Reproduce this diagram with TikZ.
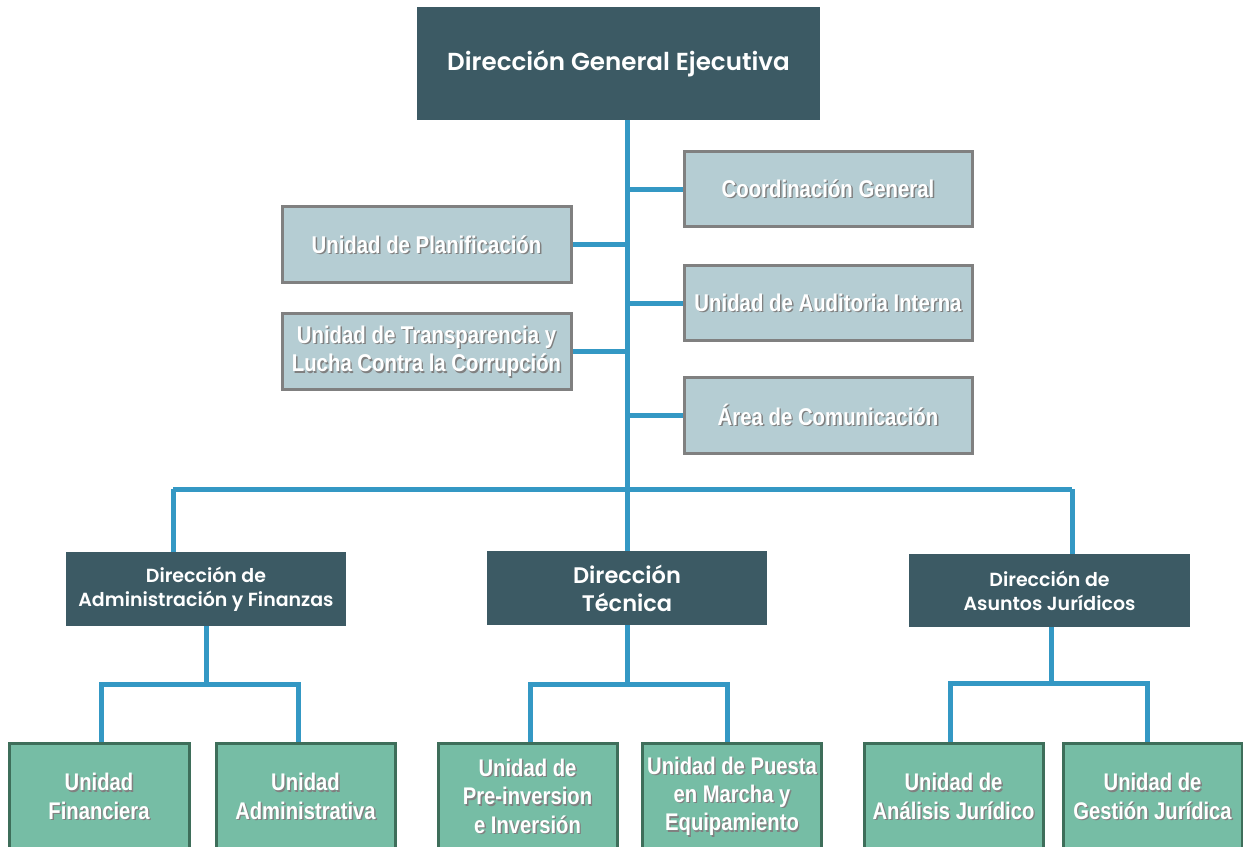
\documentclass[tikz,border=0pt]{standalone}
\usepackage{fontspec}
\newfontfamily\gothic{Poppins}[UprightFont=*-SemiBold, BoldFont=*-Bold]
\newfontfamily\narrowsans[FakeStretch=0.84]{Liberation Sans}
\definecolor{dircolor}{RGB}{60,90,100}
\definecolor{staffcolor}{RGB}{181,205,211}
\definecolor{staffline}{RGB}{128,128,128}
\definecolor{unitcolor}{RGB}{118,189,165}
\definecolor{unitline}{RGB}{62,110,90}
\definecolor{linkcolor}{RGB}{52,152,196}
\newcommand{\shad}[1]{\makebox[0pt][l]{\hspace{0.8pt}\raisebox{-0.8pt}{\color{black!50}#1}}#1}
\tikzset{
	dirbox/.style={fill=dircolor, text=white, align=center, inner sep=0pt,
		minimum width=280*\px, minimum height=74*\px, font=\gothic\fontsize{10.8}{13.5}\selectfont},
	staffbox/.style={fill=staffcolor, draw=staffline, line width=3*\px, text=white, align=center,
		inner sep=0pt, minimum width=288*\px, minimum height=75*\px,
		font=\narrowsans\bfseries\fontsize{13.8}{16}\selectfont},
	unitbox/.style={fill=unitcolor, draw=unitline, line width=3*\px, text=white, align=center,
		inner sep=0pt, minimum width=179*\px, minimum height=108*\px,
		font=\narrowsans\bfseries\fontsize{13.7}{16.2}\selectfont},
	link/.style={draw=linkcolor, line width=5*\px}
}
\begin{document}
\def\px{0.02cm}
\begin{tikzpicture}[x=\px, y=-\px]
	\useasboundingbox (0,0) rectangle (1243,847);
	% top
	\node[dirbox, minimum width=403*\px, minimum height=113*\px, font=\gothic\fontsize{14}{16}\selectfont] (dge) at (618.5,63.5) {\raisebox{-2pt}{Dirección General Ejecutiva}};
	% staff units
	\node[staffbox] (coord) at (828,189.5) {\shad{Coordinación General}};
	\node[staffbox, minimum width=289*\px, minimum height=76*\px] (plan) at (426.5,245) {\shad{Unidad de Planificación}};
	\node[staffbox] (audit) at (828,303.5) {\shad{Unidad de Auditoria Interna}};
	\node[staffbox, minimum width=289*\px, minimum height=76*\px] (transp) at (426.5,352) {\shad{Unidad de Transparencia y}\\\shad{Lucha Contra la Corrupción}};
	\node[staffbox] (comun) at (828,415.5) {\shad{Área de Comunicación}};
	% directions
	\node[dirbox] (daf) at (206,589) {Dirección de\\Administración y Finanzas};
	\node[dirbox, font=\gothic\fontsize{12.8}{16}\selectfont] (dt) at (627,588) {Dirección\\Técnica};
	\node[dirbox, minimum width=281*\px, minimum height=73*\px] (daj) at (1049.5,590.5) {Dirección de\\Asuntos Jurídicos};
	% units
	\node[unitbox, minimum width=180*\px] (fin) at (99,797) {\shad{Unidad}\\\shad{Financiera}};
	\node[unitbox] (adm) at (305.5,797) {\shad{Unidad}\\\shad{Administrativa}};
	\node[unitbox] (preinv) at (527.5,797) {\shad{Unidad de}\\\shad{Pre-inversion}\\\shad{e Inversión}};
	\node[unitbox] (puesta) at (732,797) {\shad{Unidad de Puesta}\\\shad{en Marcha y}\\\shad{Equipamiento}};
	\node[unitbox] (anal) at (953.5,797) {\shad{Unidad de}\\\shad{Análisis Jurídico}};
	\node[unitbox] (gest) at (1152.5,797) {\shad{Unidad de}\\\shad{Gestión Jurídica}};
	% trunk and staff links
	\coordinate (busl) at (173,489);
	\coordinate (busr) at (1072,489);
	\draw[link] (dge.south -| dt.north) -- (dt.north);
	\foreach \n in {coord, audit, comun} {
		\draw[link] (\n.west) -- (\n.west -| dt.north);
	}
	\foreach \n in {plan, transp} {
		\draw[link] (\n.east) -- (\n.east -| dt.north);
	}
	\draw[link] (busl) -- (busr);
	\draw[link] (busl) -- (busl |- daf.north);
	\draw[link] (busr) -- (busr |- daj.north);
	% lower branches
	\draw[link] (daf.south) -- ++(0,58) coordinate (fork1);
	\draw[link] ([xshift=2*\px]fin.north) |- (fork1) -| ([xshift=-7*\px]adm.north);
	\draw[link] (dt.south) -- ++(0,59) coordinate (fork2);
	\draw[link] ([xshift=3*\px]preinv.north) |- (fork2) -| ([xshift=-5*\px]puesta.north);
	\draw[link] ([xshift=2*\px]daj.south) -- ++(0,56) coordinate (fork3);
	\draw[link] ([xshift=-3*\px]anal.north) |- (fork3) -| ([xshift=-5*\px]gest.north);
\end{tikzpicture}
\end{document}
